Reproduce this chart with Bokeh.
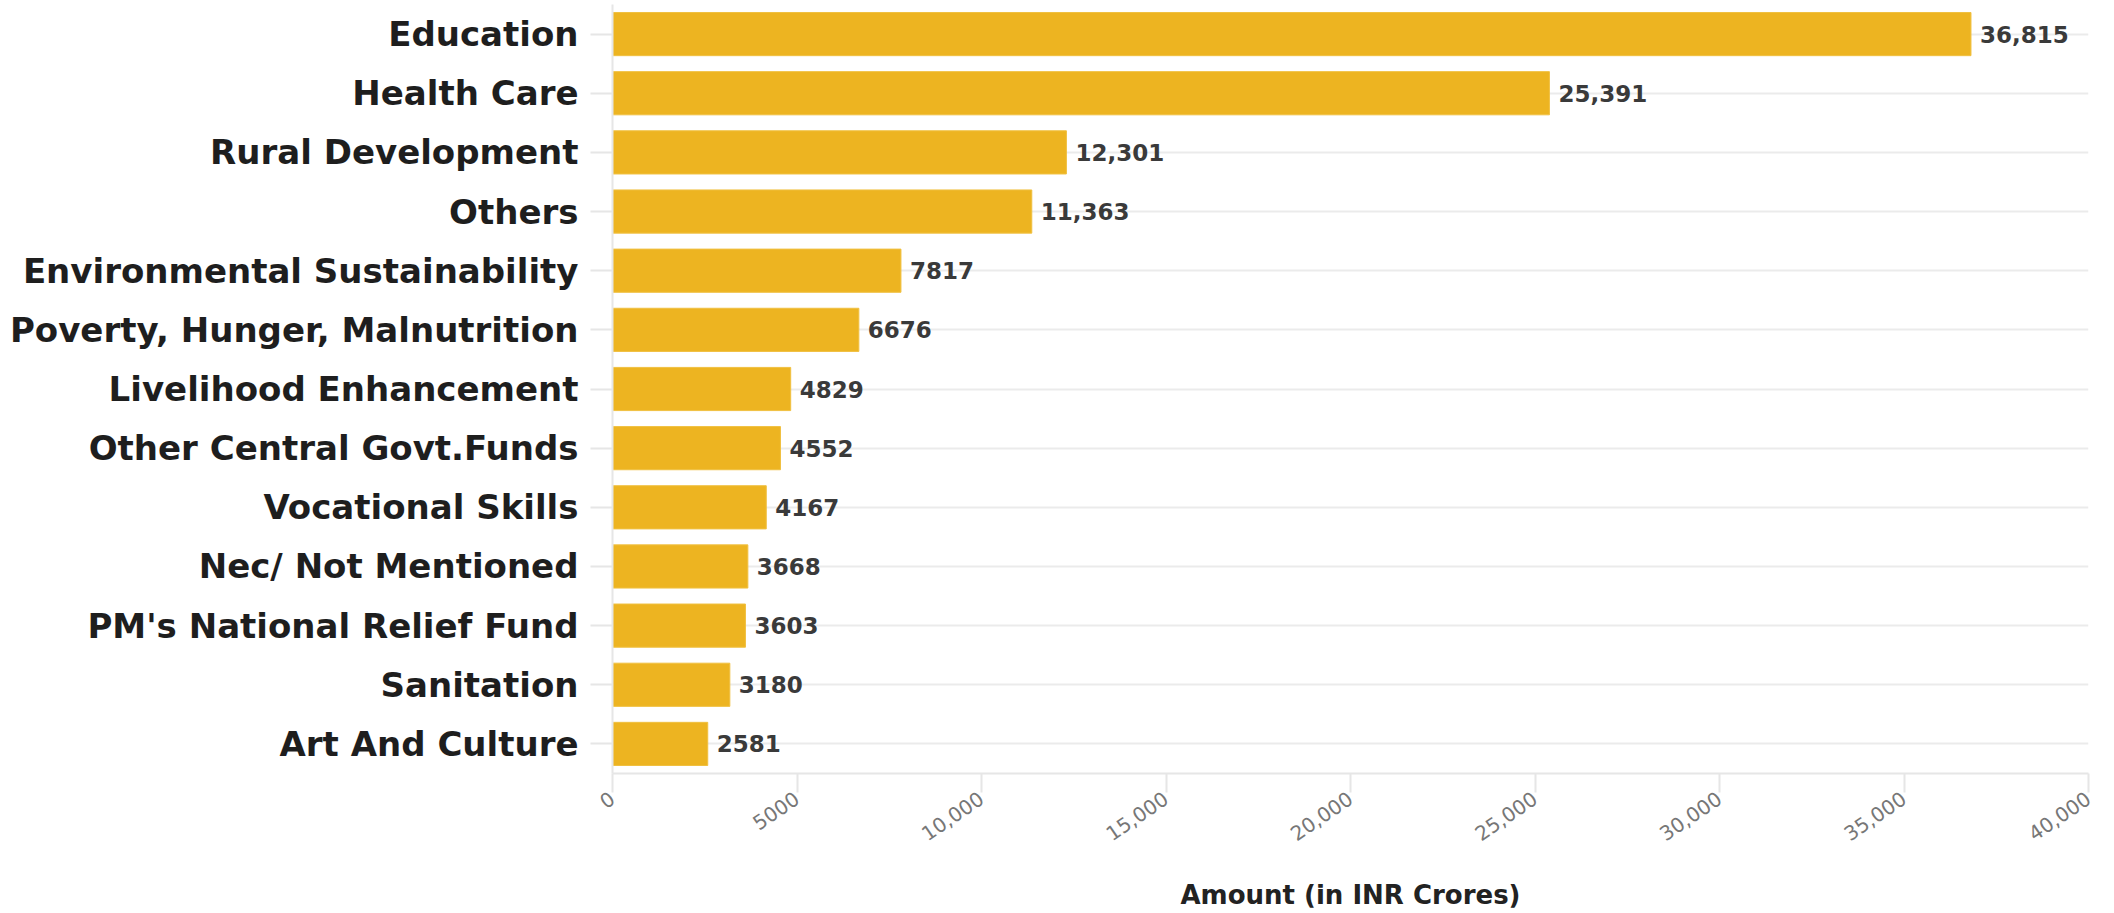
from bokeh.plotting import figure
from bokeh.models import ColumnDataSource, FactorRange, FixedTicker, CustomJSTickFormatter
from bokeh.core.properties import value
from bokeh.embed import file_html
from bokeh.resources import INLINE

categories = [
    "Education", "Health Care", "Rural Development", "Others",
    "Environmental Sustainability", "Poverty, Hunger, Malnutrition",
    "Livelihood Enhancement", "Other Central Govt.Funds", "Vocational Skills",
    "Nec/ Not Mentioned", "PM's National Relief Fund", "Sanitation", "Art And Culture",
]
amounts = [36815, 25391, 12301, 11363, 7817, 6676, 4829, 4552, 4167, 3668, 3603, 3180, 2581]
x_ticks = [0, 5000, 10000, 15000, 20000, 25000, 30000, 35000, 40000]
x_title = "Amount (in INR Crores)"

labels = [f"{v:,}" if v >= 10000 else str(v) for v in amounts]
src = ColumnDataSource(dict(cat=categories, amt=amounts, lab=labels))

p = figure(
    width=2114, height=913,
    y_range=FactorRange(factors=list(reversed(categories))),
    x_range=(0, 40000),
    output_backend="svg", toolbar_location=None,
    min_border_left=612, min_border_right=26, min_border_top=4, min_border_bottom=140,
)
p.outline_line_color = None

p.hbar(y="cat", right="amt", height=0.73, source=src,
       fill_color="#EDB421", line_color="#F0C040", line_width=1)

p.text(x="amt", y="cat", text="lab", source=src, x_offset=9,
       text_baseline="middle", text_align="left",
       text_font=value("DejaVu Sans"), text_font_style="bold",
       text_font_size="23px", text_color="#3a3a3a")

# y axis
ya = p.yaxis[0]
ya.major_label_text_font = "DejaVu Sans"
ya.major_label_text_font_style = "bold"
ya.major_label_text_font_size = "34px"
ya.major_label_text_color = "#1e1e1e"
ya.major_tick_out = 22
ya.major_tick_in = 0
ya.major_tick_line_color = "#e6e6e6"
ya.major_tick_line_width = 2
ya.axis_line_color = "#e6e6e6"
ya.axis_line_width = 2
ya.major_label_standoff = 12
ya.minor_tick_line_color = None

# x axis
xa = p.xaxis[0]
xa.ticker = FixedTicker(ticks=x_ticks)
xa.formatter = CustomJSTickFormatter(
    code="return tick >= 10000 ? tick.toLocaleString('en-US') : tick.toString();")
xa.major_label_orientation = 0.6
xa.major_label_text_font = "DejaVu Sans"
xa.major_label_text_font_size = "20px"
xa.major_label_text_color = "#777777"
xa.major_tick_out = 19
xa.major_tick_in = 0
xa.major_tick_line_color = "#e6e6e6"
xa.major_tick_line_width = 2
xa.minor_tick_line_color = None
xa.axis_line_color = "#e6e6e6"
xa.axis_line_width = 2
xa.major_label_standoff = 4
xa.axis_label = x_title
xa.axis_label_text_font = "DejaVu Sans"
xa.axis_label_text_font_style = "bold"
xa.axis_label_text_font_size = "26px"
xa.axis_label_text_color = "#222222"
xa.axis_label_standoff = 29

p.xgrid.grid_line_color = None
p.ygrid.grid_line_color = "#ebebeb"
p.ygrid.grid_line_width = 2

open("out.html", "w").write(file_html(p, INLINE))
